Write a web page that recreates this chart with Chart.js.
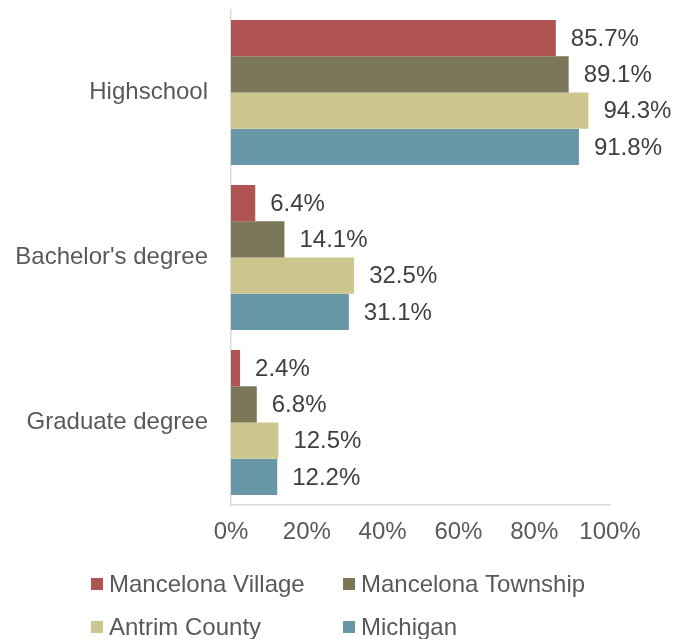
<!DOCTYPE html>
<html>
<head>
<meta charset="utf-8">
<script src="https://cdn.jsdelivr.net/npm/chart.js@4/dist/chart.umd.min.js"></script>
<style>
  html, body { margin: 0; padding: 0; background: #ffffff; }
  #wrap { width: 674px; height: 639px; position: relative; }
</style>
</head>
<body>
<div id="wrap"><canvas id="c" width="674" height="639"></canvas></div>
<script>
const categories = ["Highschool", "Bachelor's degree", "Graduate degree"];
const seriesNames = ["Mancelona Village", "Mancelona Township", "Antrim County", "Michigan"];
const mancelonaVillage = [85.7, 6.4, 2.4];
const mancelonaTownship = [89.1, 14.1, 6.8];
const antrimCounty = [94.3, 32.5, 12.5];
const michigan = [91.8, 31.1, 12.2];
const xTicks = [0, 20, 40, 60, 80, 100];
const colors = ["#B05353", "#7B7658", "#CDC78F", "#6897A7"];

const FONT = "'Liberation Sans', Arial, sans-serif";
const seriesValues = [mancelonaVillage, mancelonaTownship, antrimCounty, michigan];

const valueLabels = {
  id: 'valueLabels',
  afterDatasetsDraw(chart) {
    const ctx = chart.ctx;
    ctx.save();
    ctx.font = '24px ' + FONT;
    ctx.fillStyle = '#404040';
    ctx.textAlign = 'left';
    ctx.textBaseline = 'middle';
    chart.data.datasets.forEach((ds, di) => {
      const meta = chart.getDatasetMeta(di);
      meta.data.forEach((bar, i) => {
        ctx.fillText(ds.data[i].toFixed(1) + '%', bar.x + 15, bar.y + 1);
      });
    });
    ctx.restore();
  }
};

const gridLegend = {
  id: 'gridLegend',
  afterDraw(chart) {
    const ctx = chart.ctx;
    ctx.save();
    ctx.font = '24px ' + FONT;
    ctx.textBaseline = 'middle';
    ctx.textAlign = 'left';
    const colX = [91, 343];
    const rowY = [584, 627];
    chart.data.datasets.forEach((ds, i) => {
      const x = colX[i % 2];
      const y = rowY[Math.floor(i / 2)];
      ctx.fillStyle = ds.backgroundColor;
      ctx.fillRect(x, y - 6, 12, 12);
      ctx.fillStyle = '#595959';
      ctx.fillText(ds.label, x + 18, y + 1);
    });
    ctx.restore();
  }
};

new Chart(document.getElementById('c'), {
  type: 'bar',
  data: {
    labels: categories,
    datasets: seriesNames.map((name, i) => ({
      label: name,
      data: seriesValues[i],
      backgroundColor: colors[i],
      borderWidth: 0,
      barPercentage: 1.0,
      categoryPercentage: 0.879
    }))
  },
  options: {
    indexAxis: 'y',
    responsive: false,
    animation: false,
    layout: { padding: { top: 10, right: 64, left: 0, bottom: 0 } },
    plugins: {
      legend: { display: false },
      tooltip: { enabled: false }
    },
    scales: {
      x: {
        min: 0,
        max: 100,
        afterFit(scale) { scale.height = 134; },
        afterBuildTicks(scale) { scale.ticks = xTicks.map(v => ({ value: v })); },
        grid: { display: false, drawTicks: false },
        border: { display: true, color: '#D9D9D9', width: 1.5 },
        ticks: {
          padding: 13,
          color: '#595959',
          font: { family: FONT, size: 24 },
          callback: v => v + '%'
        }
      },
      y: {
        afterFit(scale) {
          scale.width = 231;
          scale.paddingTop = 0;
          scale.paddingBottom = 0;
        },
        grid: { display: false, drawTicks: false },
        border: { display: true, color: '#D9D9D9', width: 1.5 },
        ticks: {
          padding: 23,
          color: '#595959',
          font: { family: FONT, size: 24 }
        }
      }
    }
  },
  plugins: [valueLabels, gridLegend]
});
</script>
</body>
</html>
